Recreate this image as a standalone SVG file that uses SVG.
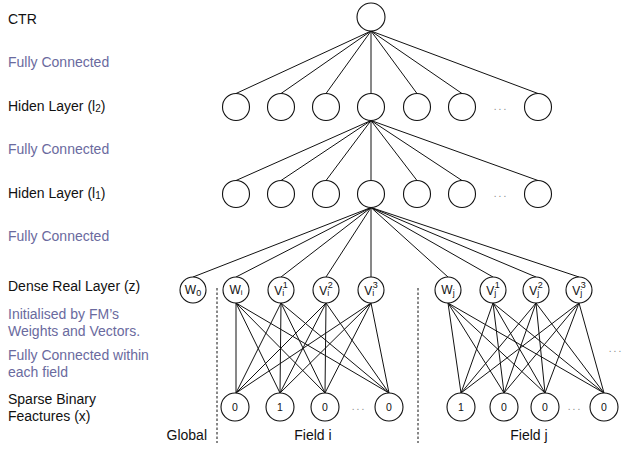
<svg xmlns="http://www.w3.org/2000/svg" width="629" height="473" viewBox="0 0 629 473">
<style>
  .bg{fill:#ffffff}
  .n{fill:#ffffff;stroke:#111;stroke-width:1.1}
  .c line{stroke:#111;stroke-width:1}
  .lbl{font-family:"Liberation Sans",Arial,sans-serif;font-size:14px;fill:#111}
  .pur{font-family:"Liberation Sans",Arial,sans-serif;font-size:14px;fill:#6a6a9e}
  .nl{font-family:"Liberation Sans",Arial,sans-serif;font-size:12px;fill:#111;text-anchor:middle}
  .sl{font-family:"Liberation Sans",Arial,sans-serif;font-size:10.5px;fill:#111;text-anchor:middle}
  .dots{font-family:"Liberation Sans",Arial,sans-serif;font-size:10px;fill:#888;text-anchor:middle;letter-spacing:2px}
  .dash{stroke:#111;stroke-width:1;stroke-dasharray:2.5,2}
</style>
<rect class="bg" x="0" y="0" width="629" height="473"/>

<g id="labels">
  <text class="lbl" x="8" y="24">CTR</text>
  <text class="pur" x="8" y="67">Fully Connected</text>
  <text class="lbl" x="8" y="111">Hiden Layer (l<tspan font-size="10" dy="1">2</tspan><tspan dy="-1">)</tspan></text>
  <text class="pur" x="8" y="154">Fully Connected</text>
  <text class="lbl" x="8" y="198">Hiden Layer (l<tspan font-size="10" dy="1">1</tspan><tspan dy="-1">)</tspan></text>
  <text class="pur" x="8" y="241">Fully Connected</text>
  <text class="lbl" x="8" y="291">Dense Real Layer (z)</text>
  <text class="pur" x="8" y="319">Initialised by FM’s</text>
  <text class="pur" x="8" y="336">Weights and Vectors.</text>
  <text class="pur" x="8" y="360">Fully Connected within</text>
  <text class="pur" x="8" y="377">each field</text>
  <text class="lbl" x="8" y="404">Sparse Binary</text>
  <text class="lbl" x="8" y="421">Feactures (x)</text>
  <text class="lbl" x="207" y="440" text-anchor="end">Global</text>
  <text class="lbl" x="313" y="440" text-anchor="middle">Field i</text>
  <text class="lbl" x="529" y="440" text-anchor="middle">Field j</text>
</g>

<g id="separators">
  <line class="dash" x1="217" y1="288" x2="217" y2="443"/>
  <line class="dash" x1="418" y1="288" x2="418" y2="443"/>
</g>

<g id="connectors" class="c">
  <line x1="371" y1="31" x2="236" y2="93.5"/>
  <line x1="371" y1="31" x2="281" y2="93.5"/>
  <line x1="371" y1="31" x2="326" y2="93.5"/>
  <line x1="371" y1="31" x2="371" y2="93.5"/>
  <line x1="371" y1="31" x2="417" y2="93.5"/>
  <line x1="371" y1="31" x2="462" y2="93.5"/>
  <line x1="371" y1="31" x2="538" y2="93.5"/>
  <line x1="371" y1="120.5" x2="236" y2="180.5"/>
  <line x1="371" y1="120.5" x2="281" y2="180.5"/>
  <line x1="371" y1="120.5" x2="326" y2="180.5"/>
  <line x1="371" y1="120.5" x2="371" y2="180.5"/>
  <line x1="371" y1="120.5" x2="417" y2="180.5"/>
  <line x1="371" y1="120.5" x2="462" y2="180.5"/>
  <line x1="371" y1="120.5" x2="538" y2="180.5"/>
  <line x1="371" y1="207.5" x2="193" y2="277"/>
  <line x1="371" y1="207.5" x2="236" y2="277"/>
  <line x1="371" y1="207.5" x2="281" y2="277"/>
  <line x1="371" y1="207.5" x2="326" y2="277"/>
  <line x1="371" y1="207.5" x2="371" y2="277"/>
  <line x1="371" y1="207.5" x2="448" y2="277"/>
  <line x1="371" y1="207.5" x2="493" y2="277"/>
  <line x1="371" y1="207.5" x2="536" y2="277"/>
  <line x1="371" y1="207.5" x2="579" y2="277"/>
  <line x1="236" y1="303" x2="236" y2="393"/>
  <line x1="236" y1="303" x2="280" y2="393"/>
  <line x1="236" y1="303" x2="325" y2="393"/>
  <line x1="236" y1="303" x2="389" y2="393"/>
  <line x1="281" y1="303" x2="236" y2="393"/>
  <line x1="281" y1="303" x2="280" y2="393"/>
  <line x1="281" y1="303" x2="325" y2="393"/>
  <line x1="281" y1="303" x2="389" y2="393"/>
  <line x1="326" y1="303" x2="236" y2="393"/>
  <line x1="326" y1="303" x2="280" y2="393"/>
  <line x1="326" y1="303" x2="325" y2="393"/>
  <line x1="326" y1="303" x2="389" y2="393"/>
  <line x1="371" y1="303" x2="236" y2="393"/>
  <line x1="371" y1="303" x2="280" y2="393"/>
  <line x1="371" y1="303" x2="325" y2="393"/>
  <line x1="371" y1="303" x2="389" y2="393"/>
  <line x1="448" y1="303" x2="461" y2="393"/>
  <line x1="448" y1="303" x2="504" y2="393"/>
  <line x1="448" y1="303" x2="545" y2="393"/>
  <line x1="448" y1="303" x2="604" y2="393"/>
  <line x1="493" y1="303" x2="461" y2="393"/>
  <line x1="493" y1="303" x2="504" y2="393"/>
  <line x1="493" y1="303" x2="545" y2="393"/>
  <line x1="493" y1="303" x2="604" y2="393"/>
  <line x1="536" y1="303" x2="461" y2="393"/>
  <line x1="536" y1="303" x2="504" y2="393"/>
  <line x1="536" y1="303" x2="545" y2="393"/>
  <line x1="536" y1="303" x2="604" y2="393"/>
  <line x1="579" y1="303" x2="461" y2="393"/>
  <line x1="579" y1="303" x2="504" y2="393"/>
  <line x1="579" y1="303" x2="545" y2="393"/>
  <line x1="579" y1="303" x2="604" y2="393"/>
</g>

<g id="ctr"><circle class="n" cx="371" cy="17" r="14"/></g>

<g id="hidden-l2">
  <g id="h2-1"><circle class="n" cx="236" cy="107" r="13.5"/></g>
  <g id="h2-2"><circle class="n" cx="281" cy="107" r="13.5"/></g>
  <g id="h2-3"><circle class="n" cx="326" cy="107" r="13.5"/></g>
  <g id="h2-4"><circle class="n" cx="371" cy="107" r="13.5"/></g>
  <g id="h2-5"><circle class="n" cx="417" cy="107" r="13.5"/></g>
  <g id="h2-6"><circle class="n" cx="462" cy="107" r="13.5"/></g>
  <text class="dots" x="501" y="110">...</text>
  <g id="h2-n"><circle class="n" cx="538" cy="107" r="13.5"/></g>
</g>

<g id="hidden-l1">
  <g id="h1-1"><circle class="n" cx="236" cy="194" r="13.5"/></g>
  <g id="h1-2"><circle class="n" cx="281" cy="194" r="13.5"/></g>
  <g id="h1-3"><circle class="n" cx="326" cy="194" r="13.5"/></g>
  <g id="h1-4"><circle class="n" cx="371" cy="194" r="13.5"/></g>
  <g id="h1-5"><circle class="n" cx="417" cy="194" r="13.5"/></g>
  <g id="h1-6"><circle class="n" cx="462" cy="194" r="13.5"/></g>
  <text class="dots" x="501" y="197">...</text>
  <g id="h1-n"><circle class="n" cx="538" cy="194" r="13.5"/></g>
</g>

<g id="dense">
  <g id="w0"><circle class="n" cx="193" cy="290" r="13"/><text class="nl" x="193" y="294">W<tspan font-size="9" dy="2">0</tspan></text></g>
  <g id="wi"><circle class="n" cx="236" cy="290" r="13"/><text class="nl" x="236" y="294">W<tspan font-size="8" dy="1">i</tspan></text></g>
  <g id="vi1"><circle class="n" cx="281" cy="290" r="13"/><text class="nl" x="281" y="295">V<tspan font-size="9" dy="1">i</tspan><tspan font-size="9" dx="-1.5" dy="-8">1</tspan></text></g>
  <g id="vi2"><circle class="n" cx="326" cy="290" r="13"/><text class="nl" x="326" y="295">V<tspan font-size="9" dy="1">i</tspan><tspan font-size="9" dx="-1.5" dy="-8">2</tspan></text></g>
  <g id="vi3"><circle class="n" cx="371" cy="290" r="13"/><text class="nl" x="371" y="295">V<tspan font-size="9" dy="1">i</tspan><tspan font-size="9" dx="-1.5" dy="-8">3</tspan></text></g>
  <g id="wj"><circle class="n" cx="448" cy="290" r="13"/><text class="nl" x="448" y="294">W<tspan font-size="9" dy="2">j</tspan></text></g>
  <g id="vj1"><circle class="n" cx="493" cy="290" r="13"/><text class="nl" x="493" y="295">V<tspan font-size="9" dy="1">j</tspan><tspan font-size="9" dx="-1.5" dy="-8">1</tspan></text></g>
  <g id="vj2"><circle class="n" cx="536" cy="290" r="13"/><text class="nl" x="536" y="295">V<tspan font-size="9" dy="1">j</tspan><tspan font-size="9" dx="-1.5" dy="-8">2</tspan></text></g>
  <g id="vj3"><circle class="n" cx="579" cy="290" r="13"/><text class="nl" x="579" y="295">V<tspan font-size="9" dy="1">j</tspan><tspan font-size="9" dx="-1.5" dy="-8">3</tspan></text></g>
  <text class="dots" x="616" y="352">...</text>
</g>

<g id="sparse">
  <g id="xi1"><circle class="n" cx="235" cy="407" r="14"/><text class="sl" x="235" y="411">0</text></g>
  <g id="xi2"><circle class="n" cx="280" cy="407" r="14"/><text class="sl" x="280" y="411">1</text></g>
  <g id="xi3"><circle class="n" cx="325" cy="407" r="14"/><text class="sl" x="325" y="411">0</text></g>
  <text class="dots" x="359" y="410">...</text>
  <g id="xin"><circle class="n" cx="389" cy="407" r="14"/><text class="sl" x="389" y="411">0</text></g>
  <g id="xj1"><circle class="n" cx="461" cy="407" r="14"/><text class="sl" x="461" y="411">1</text></g>
  <g id="xj2"><circle class="n" cx="504" cy="407" r="14"/><text class="sl" x="504" y="411">0</text></g>
  <g id="xj3"><circle class="n" cx="545" cy="407" r="14"/><text class="sl" x="545" y="411">0</text></g>
  <text class="dots" x="575" y="410">...</text>
  <g id="xjn"><circle class="n" cx="604" cy="407" r="14"/><text class="sl" x="604" y="411">0</text></g>
</g>
</svg>
